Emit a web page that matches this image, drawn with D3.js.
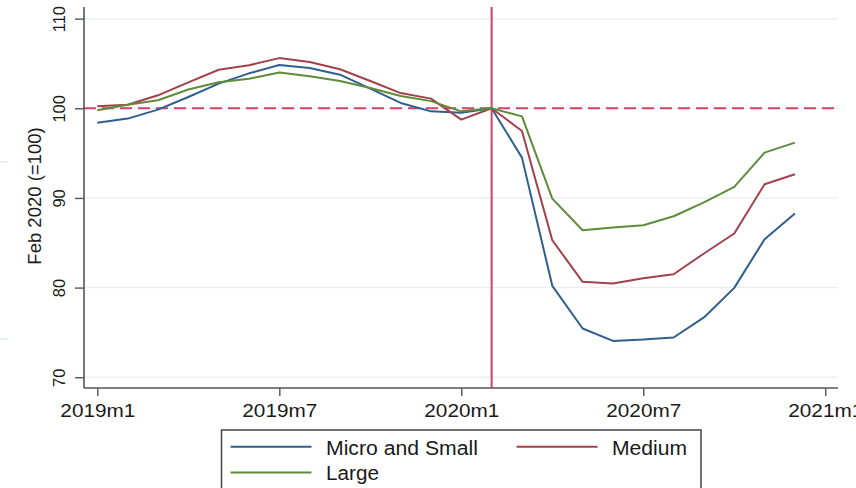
<!DOCTYPE html>
<html>
<head>
<meta charset="utf-8">
<script src="https://cdn.jsdelivr.net/npm/d3@7"></script>
<style>
  html, body { margin: 0; padding: 0; background: #fff; }
  svg { display: block; font-family: "Liberation Sans", Arial, sans-serif; }
</style>
</head>
<body>
<svg id="chart" width="856" height="488"></svg>
<script>
// Monthly index, Feb 2020 = 100, by firm size (2019m1 .. 2020m12)
const months = d3.range(24);
const microSmall = [98.4, 98.85, 99.85, 101.26, 102.75, 103.9, 104.83, 104.5, 103.75, 102.2, 100.6, 99.66,
                    99.5, 100, 94.5, 80.2, 75.44, 74.05, 74.2, 74.43, 76.67, 79.97, 85.4, 88.26];
const medium     = [100.22, 100.4, 101.45, 102.9, 104.3, 104.8, 105.6, 105.16, 104.35, 103.05, 101.7, 101.08,
                    98.74, 100, 97.47, 85.28, 80.64, 80.45, 81.05, 81.49, 83.8, 86.03, 91.53, 92.64];
const large      = [99.78, 100.4, 100.9, 102.1, 102.9, 103.3, 104.0, 103.57, 103.05, 102.27, 101.37, 100.8,
                    99.66, 100, 99.1, 89.93, 86.4, 86.7, 86.96, 87.96, 89.5, 91.23, 95.06, 96.17];
const seriesNames = ["Micro and Small", "Medium", "Large"];
const xTickPos = [0, 6, 12, 18, 24];
const xTickLabels = ["2019m1", "2019m7", "2020m1", "2020m7", "2021m1"];
const yTicks = [70, 80, 90, 100, 110];
const baseMonth = 13;   // 2020m2
const baseValue = 100;

const colors = ["#2f5f8c", "#a2414a", "#5f8b3b"];
const refColor = "#d4406a";

const svg = d3.select("#chart");

const x = d3.scaleLinear().domain([-0.44, 24.42]).range([84, 838]);
const y = d3.scaleLinear().domain([68.8, 111.3]).range([388, 7]);

// faint stray marks at the far left edge
svg.append("g").selectAll("line").data([162, 339]).join("line")
  .attr("x1", 0).attr("x2", 8).attr("y1", d => d).attr("y2", d => d)
  .attr("stroke", "#e4edf3").attr("stroke-width", 1.5);

// horizontal gridlines
svg.append("g").selectAll("line").data(yTicks).join("line")
  .attr("x1", x.range()[0]).attr("x2", x.range()[1])
  .attr("y1", d => y(d)).attr("y2", d => y(d))
  .attr("stroke", "#eaf0f4").attr("stroke-width", 1.5);

// reference lines: base level and base month
svg.append("line")
  .attr("x1", x.range()[0]).attr("x2", x.range()[1])
  .attr("y1", y(baseValue)).attr("y2", y(baseValue))
  .attr("stroke", refColor).attr("stroke-width", 2)
  .attr("stroke-dasharray", "12,6");
svg.append("line")
  .attr("x1", x(baseMonth)).attr("x2", x(baseMonth))
  .attr("y1", y.range()[1]).attr("y2", y.range()[0])
  .attr("stroke", refColor).attr("stroke-width", 2);

// series lines
const line = d3.line().x((d, i) => x(months[i])).y(d => y(d));
[microSmall, medium, large].forEach((s, k) => {
  svg.append("path").datum(s)
    .attr("d", line)
    .attr("fill", "none")
    .attr("stroke", colors[k])
    .attr("stroke-width", 2)
    .attr("stroke-linejoin", "round");
});

// y axis
const yAxis = svg.append("g").attr("transform", `translate(${x.range()[0]},0)`)
  .call(d3.axisLeft(y).tickValues(yTicks).tickSize(9).tickFormat(d3.format("d")));
yAxis.attr("font-size", null).attr("font-family", null);
yAxis.select(".domain").attr("stroke", "#555").attr("stroke-width", 1.6)
  .attr("d", `M0,${y.range()[1]}V${y.range()[0]}`);
yAxis.selectAll(".tick line").attr("stroke", "#555").attr("stroke-width", 1.4);
yAxis.selectAll(".tick text")
  .attr("x", null).attr("dy", null)
  .attr("transform", "translate(-19,0) rotate(-90)")
  .attr("text-anchor", "middle")
  .style("font-size", "16.5px")
  .style("font-family", "'Liberation Sans', Arial, sans-serif")
  .attr("fill", "#1a1a1a");

// x axis
const xAxis = svg.append("g").attr("transform", `translate(0,${y.range()[0]})`)
  .call(d3.axisBottom(x).tickValues(xTickPos).tickSize(8)
    .tickFormat((d, i) => xTickLabels[i]));
xAxis.attr("font-size", null).attr("font-family", null);
xAxis.select(".domain").attr("stroke", "#555").attr("stroke-width", 1.6)
  .attr("d", `M${x.range()[0]},0H${x.range()[1]}`);
xAxis.selectAll(".tick line").attr("stroke", "#555").attr("stroke-width", 1.4);
xAxis.selectAll(".tick text")
  .attr("y", 29).attr("dy", null)
  .style("font-size", "18.5px")
  .style("font-family", "'Liberation Sans', Arial, sans-serif")
  .attr("fill", "#1a1a1a")
  .attr("textLength", 75).attr("lengthAdjust", "spacingAndGlyphs");

// y axis title
svg.append("text")
  .attr("transform", "translate(41,196) rotate(-90)")
  .attr("text-anchor", "middle")
  .style("font-size", "18.5px")
  .attr("fill", "#1a1a1a")
  .text("Feb 2020 (=100)");

// legend
const legend = svg.append("g");
legend.append("rect")
  .attr("x", 221.5).attr("y", 430).attr("width", 479.5).attr("height", 64)
  .attr("fill", "#fff").attr("stroke", "#444").attr("stroke-width", 1.5);
const legendItems = [
  { lx: 230.5, ly: 446.7, tx: 326, ty: 455, w: 152 },
  { lx: 516.5, ly: 446.7, tx: 612, ty: 455, w: 75 },
  { lx: 230.5, ly: 472.5, tx: 326, ty: 480, w: 53 }
];
legendItems.forEach((p, k) => {
  legend.append("line")
    .attr("x1", p.lx).attr("x2", p.lx + 81)
    .attr("y1", p.ly).attr("y2", p.ly)
    .attr("stroke", colors[k]).attr("stroke-width", 2);
  legend.append("text")
    .attr("x", p.tx).attr("y", p.ty)
    .style("font-size", "19.5px")
    .attr("fill", "#1a1a1a")
    .attr("textLength", p.w).attr("lengthAdjust", "spacingAndGlyphs")
    .text(seriesNames[k]);
});
</script>
</body>
</html>
